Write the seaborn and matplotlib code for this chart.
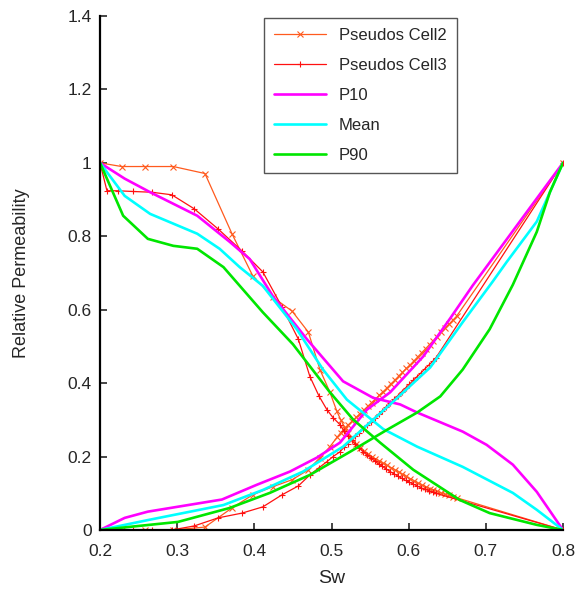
import numpy as np
import pandas as pd
import matplotlib
matplotlib.use("Agg")
import matplotlib.pyplot as plt
import seaborn as sns

sns.set_style("white")
plt.rcParams['font.family'] = ['Liberation Sans', 'DejaVu Sans']

# ---------------- data ----------------
# Pseudos Cell2 (shared Sw for oil & water)
cell2_sw = [0.2, 0.228, 0.258, 0.295, 0.336, 0.371, 0.398, 0.424, 0.449, 0.470, 0.485, 0.498, 0.507,
            0.512, 0.517, 0.522, 0.527, 0.532, 0.537, 0.542, 0.547, 0.552, 0.557, 0.562, 0.567,
            0.572, 0.577, 0.582, 0.587, 0.592, 0.597, 0.602, 0.607, 0.612, 0.617, 0.622, 0.627,
            0.632, 0.637, 0.642, 0.647, 0.652, 0.657, 0.662, 0.8]
cell2_kro = [1.0, 0.99, 0.99, 0.99, 0.971, 0.807, 0.692, 0.634, 0.596, 0.539, 0.437, 0.375, 0.323,
             0.300, 0.280, 0.263, 0.248, 0.235, 0.224, 0.215, 0.207, 0.200, 0.194, 0.188, 0.182,
             0.176, 0.170, 0.164, 0.158, 0.152, 0.146, 0.140, 0.134, 0.128, 0.123, 0.118, 0.113,
             0.109, 0.105, 0.101, 0.097, 0.094, 0.091, 0.088, 0.0]
cell2_krw = [0.0, 0.0, 0.0, 0.0, 0.008, 0.06, 0.096, 0.118, 0.137, 0.164, 0.197, 0.227, 0.252,
             0.265, 0.276, 0.287, 0.297, 0.307, 0.317, 0.327, 0.337, 0.347, 0.357, 0.367, 0.377,
             0.387, 0.398, 0.408, 0.419, 0.429, 0.440, 0.450, 0.461, 0.472, 0.483, 0.494, 0.505,
             0.516, 0.527, 0.538, 0.549, 0.560, 0.571, 0.582, 1.0]

# Pseudos Cell3
cell3_sw = [0.2, 0.209, 0.223, 0.243, 0.267, 0.293, 0.322, 0.353, 0.384, 0.411, 0.436, 0.457, 0.472,
            0.484, 0.494, 0.502, 0.511,
            0.516, 0.521, 0.526, 0.531, 0.536, 0.541, 0.546, 0.551, 0.556, 0.561, 0.566, 0.571,
            0.576, 0.581, 0.586, 0.591, 0.596, 0.601, 0.606, 0.611, 0.616, 0.621, 0.626, 0.631,
            0.635, 0.8]
cell3_kro = [1.0, 0.924, 0.924, 0.922, 0.92, 0.913, 0.875, 0.82, 0.76, 0.703, 0.607, 0.52, 0.418,
             0.364, 0.328, 0.306, 0.287,
             0.270, 0.256, 0.244, 0.233, 0.223, 0.213, 0.204, 0.196, 0.188, 0.180, 0.173, 0.166,
             0.159, 0.153, 0.147, 0.141, 0.135, 0.130, 0.125, 0.120, 0.115, 0.111, 0.107, 0.103,
             0.100, 0.0]
cell3_krw = [0.0, 0.0, 0.0, 0.0, 0.0, 0.0, 0.011, 0.033, 0.046, 0.063, 0.096, 0.12, 0.15,
             0.17, 0.186, 0.2, 0.213,
             0.225, 0.235, 0.245, 0.255, 0.265, 0.275, 0.285, 0.295, 0.305, 0.315, 0.325, 0.336,
             0.346, 0.356, 0.366, 0.377, 0.387, 0.397, 0.408, 0.418, 0.428, 0.439, 0.449, 0.459,
             0.468, 1.0]

# P10
p10_sw_o = [0.2, 0.232, 0.265, 0.326, 0.368, 0.394, 0.424, 0.468, 0.515, 0.554, 0.589, 0.611, 0.670, 0.701, 0.735, 0.766, 0.8]
p10_kro = [1.0, 0.957, 0.92, 0.856, 0.785, 0.738, 0.637, 0.52, 0.405, 0.36, 0.342, 0.32, 0.268, 0.232, 0.178, 0.104, 0.0]
p10_sw_w = [0.2, 0.232, 0.262, 0.358, 0.403, 0.446, 0.481, 0.511, 0.546, 0.576, 0.619, 0.654, 0.683, 0.8]
p10_krw = [0.0, 0.033, 0.05, 0.083, 0.123, 0.159, 0.197, 0.238, 0.328, 0.375, 0.473, 0.577, 0.666, 1.0]

# Mean
mean_sw_o = [0.2, 0.232, 0.265, 0.326, 0.355, 0.381, 0.411, 0.455, 0.489, 0.52, 0.567, 0.611, 0.670, 0.735, 0.766, 0.8]
mean_kro = [1.0, 0.91, 0.861, 0.807, 0.766, 0.716, 0.665, 0.547, 0.437, 0.355, 0.275, 0.227, 0.172, 0.101, 0.055, 0.0]
mean_sw_w = [0.2, 0.262, 0.36, 0.411, 0.463, 0.515, 0.576, 0.628, 0.670, 0.709, 0.727, 0.766, 0.8]
mean_krw = [0.0, 0.027, 0.068, 0.109, 0.159, 0.227, 0.342, 0.443, 0.566, 0.677, 0.73, 0.84, 1.0]

# P90
p90_sw_o = [0.2, 0.230, 0.262, 0.295, 0.326, 0.36, 0.411, 0.45, 0.498, 0.528, 0.563, 0.606, 0.666, 0.705, 0.766, 0.8]
p90_kro = [1.0, 0.856, 0.793, 0.774, 0.766, 0.716, 0.593, 0.506, 0.375, 0.301, 0.238, 0.164, 0.082, 0.046, 0.014, 0.0]
p90_sw_w = [0.2, 0.236, 0.301, 0.368, 0.42, 0.472, 0.524, 0.572, 0.611, 0.641, 0.670, 0.705, 0.735, 0.766, 0.783, 0.8]
p90_krw = [0.0, 0.008, 0.022, 0.06, 0.101, 0.150, 0.213, 0.273, 0.32, 0.364, 0.437, 0.547, 0.668, 0.812, 0.92, 1.0]

x_ticks = [0.2, 0.3, 0.4, 0.5, 0.6, 0.7, 0.8]
y_ticks = [0, 0.2, 0.4, 0.6, 0.8, 1, 1.2, 1.4]
y_ticklabels = ["0", "0.2", "0.4", "0.6", "0.8", "1", "1.2", "1.4"]

# ---------------- plot ----------------
fig = plt.figure(figsize=(5.79, 5.94), dpi=100)
ax = fig.add_axes([100/579, 1-530/594, 463/579, 514/594])

c_cell2 = "#ff5a1e"
c_cell3 = "#ff1010"
c_p10 = "#ff00ff"
c_mean = "#00ffff"
c_p90 = "#00e600"

def draw(sw, kr, color, label=None, lw=1.0, marker=None, ms=4, mew=0.8):
    sns.lineplot(x=sw, y=kr, ax=ax, color=color, label=label, linewidth=lw, sort=False,
                 estimator=None, marker=marker, markersize=ms, markeredgewidth=mew,
                 markeredgecolor=color, legend=bool(label))

draw(cell2_sw, cell2_kro, c_cell2, "Pseudos Cell2", lw=0.9, marker="x", ms=4)
draw(cell2_sw, cell2_krw, c_cell2, None, lw=0.9, marker="x", ms=4)
draw(cell3_sw, cell3_kro, c_cell3, "Pseudos Cell3", lw=0.9, marker="+", ms=5)
draw(cell3_sw, cell3_krw, c_cell3, None, lw=0.9, marker="+", ms=5)
draw(p10_sw_o, p10_kro, c_p10, "P10", lw=1.9)
draw(p10_sw_w, p10_krw, c_p10, None, lw=1.9)
draw(mean_sw_o, mean_kro, c_mean, "Mean", lw=1.9)
draw(mean_sw_w, mean_krw, c_mean, None, lw=1.9)
draw(p90_sw_o, p90_kro, c_p90, "P90", lw=1.9)
draw(p90_sw_w, p90_krw, c_p90, None, lw=1.9)

ax.set_xlim(0.2, 0.8)
ax.set_ylim(0, 1.4)
ax.set_xticks(x_ticks)
ax.set_xticklabels([str(t) for t in x_ticks])
ax.set_yticks(y_ticks)
ax.set_yticklabels(y_ticklabels)
ax.tick_params(direction="in", length=5, width=1.2, labelsize=12.5,
               bottom=True, left=True, top=False, right=False)
ax.tick_params(axis="x", pad=10)
ax.tick_params(axis="y", pad=6)
for side in ["top", "right"]:
    ax.spines[side].set_visible(False)
for side in ["left", "bottom"]:
    ax.spines[side].set_linewidth(1.6)
    ax.spines[side].set_color("black")

ax.set_xlabel("Sw", fontsize=14, labelpad=8)
ax.set_ylabel("Relative Permeability", fontsize=13, labelpad=27)

leg = ax.legend(loc="upper left", bbox_to_anchor=(164/463, 0.996), borderaxespad=0,
                fontsize=12, frameon=True, fancybox=False, framealpha=1, edgecolor="#555555",
                handlelength=3.1, labelspacing=0.9, borderpad=0.6, handletextpad=0.8)
leg.get_frame().set_linewidth(1.0)

fig.savefig("out.png", dpi=100)
